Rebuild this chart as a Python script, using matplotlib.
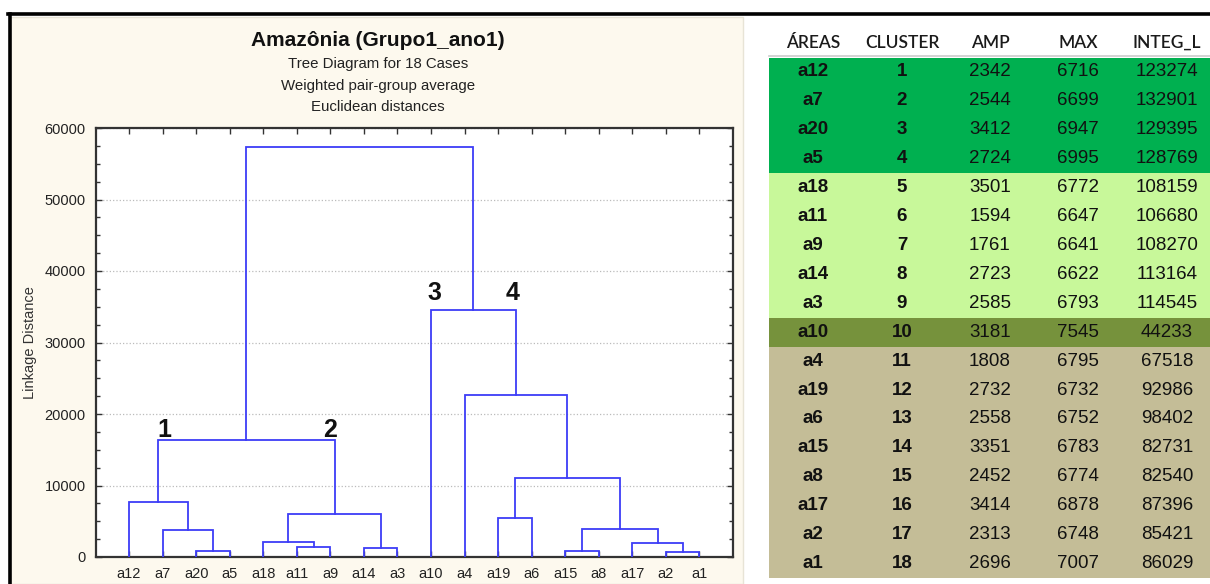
import matplotlib
matplotlib.use("Agg")
import matplotlib.pyplot as plt
from matplotlib.patches import Rectangle
from matplotlib.lines import Line2D
from matplotlib.ticker import MultipleLocator

# ---------------- data ----------------
leaves = ['a12', 'a7', 'a20', 'a5', 'a18', 'a11', 'a9', 'a14', 'a3',
          'a10', 'a4', 'a19', 'a6', 'a15', 'a8', 'a17', 'a2', 'a1']
# merges: (left child, right child, linkage distance); ids >= 18 are earlier merges
merge_left = [2, 1, 0, 5, 4, 7, 22, 20, 16, 15, 13, 28, 11, 30, 10, 9, 25]
merge_right = [3, 18, 19, 6, 21, 8, 23, 24, 17, 26, 14, 27, 12, 29, 31, 32, 33]
merge_height = [850, 3800, 7750, 1450, 2050, 1300, 6000, 16300,
                650, 1900, 850, 3950, 5400, 11050, 22700, 34500, 57400]
cluster_marks = ['1', '2', '3', '4']
cluster_nodes = [20, 24, 9, 32]
cluster_mark_y = [17800, 17800, 36900, 36900]
cluster_mark_dx = [0.17, -0.12, 0.1, -0.1]

title = 'Amazônia (Grupo1_ano1)'
subtitles = ['Tree Diagram for 18 Cases', 'Weighted pair-group average',
             'Euclidean distances']
ylabel = 'Linkage Distance'

tbl_headers = ['ÁREAS', 'CLUSTER', 'AMP', 'MAX', 'INTEG_L']
tbl_areas = ['a12', 'a7', 'a20', 'a5', 'a18', 'a11', 'a9', 'a14', 'a3',
             'a10', 'a4', 'a19', 'a6', 'a15', 'a8', 'a17', 'a2', 'a1']
tbl_cluster = list(range(1, 19))
tbl_amp = [2342, 2544, 3412, 2724, 3501, 1594, 1761, 2723, 2585,
           3181, 1808, 2732, 2558, 3351, 2452, 3414, 2313, 2696]
tbl_max = [6716, 6699, 6947, 6995, 6772, 6647, 6641, 6622, 6793,
           7545, 6795, 6732, 6752, 6783, 6774, 6878, 6748, 7007]
tbl_integ = [123274, 132901, 129395, 128769, 108159, 106680, 108270, 113164, 114545,
             44233, 67518, 92986, 98402, 82731, 82540, 87396, 85421, 86029]
tbl_group = [1, 1, 1, 1, 2, 2, 2, 2, 2, 3, 4, 4, 4, 4, 4, 4, 4, 4]
group_colors = {1: '#00B050', 2: '#C8F89A', 3: '#76923C', 4: '#C4BD97'}

# ---------------- figure ----------------
W, H = 1210, 584
fig = plt.figure(figsize=(W / 100, H / 100), dpi=100)
fig.patch.set_facecolor('white')


def fx(x):
    return x / W


def fy(y):
    return 1 - y / H


FONT = ['Liberation Sans', 'DejaVu Sans']

# cream panel
fig.add_artist(Rectangle((fx(10), fy(584)), (743 - 10) / W, (584 - 17) / H,
                         transform=fig.transFigure, facecolor='#FDF9EE',
                         edgecolor='#E8E4D6', lw=1, zorder=0))
# black frame lines
fig.add_artist(Line2D([fx(8), fx(1210)], [fy(14), fy(14)], transform=fig.transFigure,
                      color='black', lw=2.6, zorder=5))
fig.add_artist(Line2D([fx(9.5), fx(9.5)], [fy(14), fy(584)], transform=fig.transFigure,
                      color='black', lw=2.6, zorder=5))

# titles
fig.text(fx(378), fy(41), title, ha='center', va='center', fontsize=15,
         fontweight='bold', family=FONT, color='#111111')
for i, s in enumerate(subtitles):
    fig.text(fx(378), fy(64 + 21.5 * i), s, ha='center', va='center', fontsize=10.8,
             family=FONT, color='#222222')
fig.text(fx(30), fy(343), ylabel, rotation=90, ha='center', va='center',
         fontsize=10.5, family=FONT, color='#333333')

# ---------------- dendrogram ----------------
ax = fig.add_axes([fx(95.5), fy(557), (733 - 95.5) / W, (557 - 128) / H])
ax.set_facecolor('white')
n = len(leaves)
xpos = {i: i + 1 for i in range(n)}
hpos = {i: 0.0 for i in range(n)}
for k, (l, r, h) in enumerate(zip(merge_left, merge_right, merge_height)):
    node = n + k
    xl, xr = xpos[l], xpos[r]
    ax.plot([xl, xl, xr, xr], [hpos[l], h, h, hpos[r]], color='#3D3DF7',
            lw=1.3, solid_joinstyle='miter', zorder=3)
    xpos[node] = (xl + xr) / 2
    hpos[node] = h

for m, nd, yy, dx in zip(cluster_marks, cluster_nodes, cluster_mark_y, cluster_mark_dx):
    ax.text(xpos[nd] + dx, yy, m, ha='center', va='center', fontsize=18,
            fontweight='bold', family=FONT, color='#111111', zorder=4)

ax.set_xlim(0, n + 1)
ax.set_ylim(0, 60000)
ax.set_xticks(range(1, n + 1))
ax.set_xticklabels(leaves, family=FONT, fontsize=10.5, color='#222222')
ax.yaxis.set_major_locator(MultipleLocator(10000))
ax.yaxis.set_minor_locator(MultipleLocator(2500))
for lab in ax.get_yticklabels():
    lab.set_family(FONT)
ax.tick_params(axis='y', which='major', labelsize=10.5, labelcolor='#222222',
               direction='in', length=4, width=1, right=True, pad=7, color='#333333')
ax.tick_params(axis='y', which='minor', direction='in', length=3, width=1,
               right=True, color='#333333')
ax.tick_params(axis='x', which='major', direction='in', length=4, width=1,
               top=True, pad=7, color='#333333')
ax.grid(axis='y', which='major', linestyle=':', color='#BBBBBB', lw=0.9, zorder=1)
for sp in ax.spines.values():
    sp.set_color('#333333')
    sp.set_linewidth(1.6)

# ---------------- table ----------------
nrows = len(tbl_areas)
axt = fig.add_axes([fx(769), fy(578), (1210 - 769) / W, (578 - 57.5) / H])
axt.set_xlim(0, 1)
axt.set_ylim(nrows, 0)
axt.axis('off')
col_x = [0.0998, 0.3016, 0.501, 0.7007, 0.9025]

for i in range(nrows):
    axt.add_patch(Rectangle((0, i), 1, 1, facecolor=group_colors[tbl_group[i]],
                            edgecolor='none', clip_on=False))
    vals = [tbl_areas[i], str(tbl_cluster[i]), str(tbl_amp[i]), str(tbl_max[i]),
            str(tbl_integ[i])]
    for j, v in enumerate(vals):
        axt.text(col_x[j], i + 0.5, v, ha='center', va='center', fontsize=13.5,
                 family=FONT, fontweight='bold' if j < 2 else 'normal',
                 color='#111111')

axt.plot([0, 1], [-0.04, -0.04], color='#CCCCCC', lw=1.2, clip_on=False)
for j, hd in enumerate(tbl_headers):
    axt.text(col_x[j], -0.5, hd, ha='center', va='center', fontsize=12.5,
             family=['Lato', 'DejaVu Sans'], fontweight='semibold', color='#1A1A1A',
             clip_on=False)

fig.savefig('out.png', dpi=100)
